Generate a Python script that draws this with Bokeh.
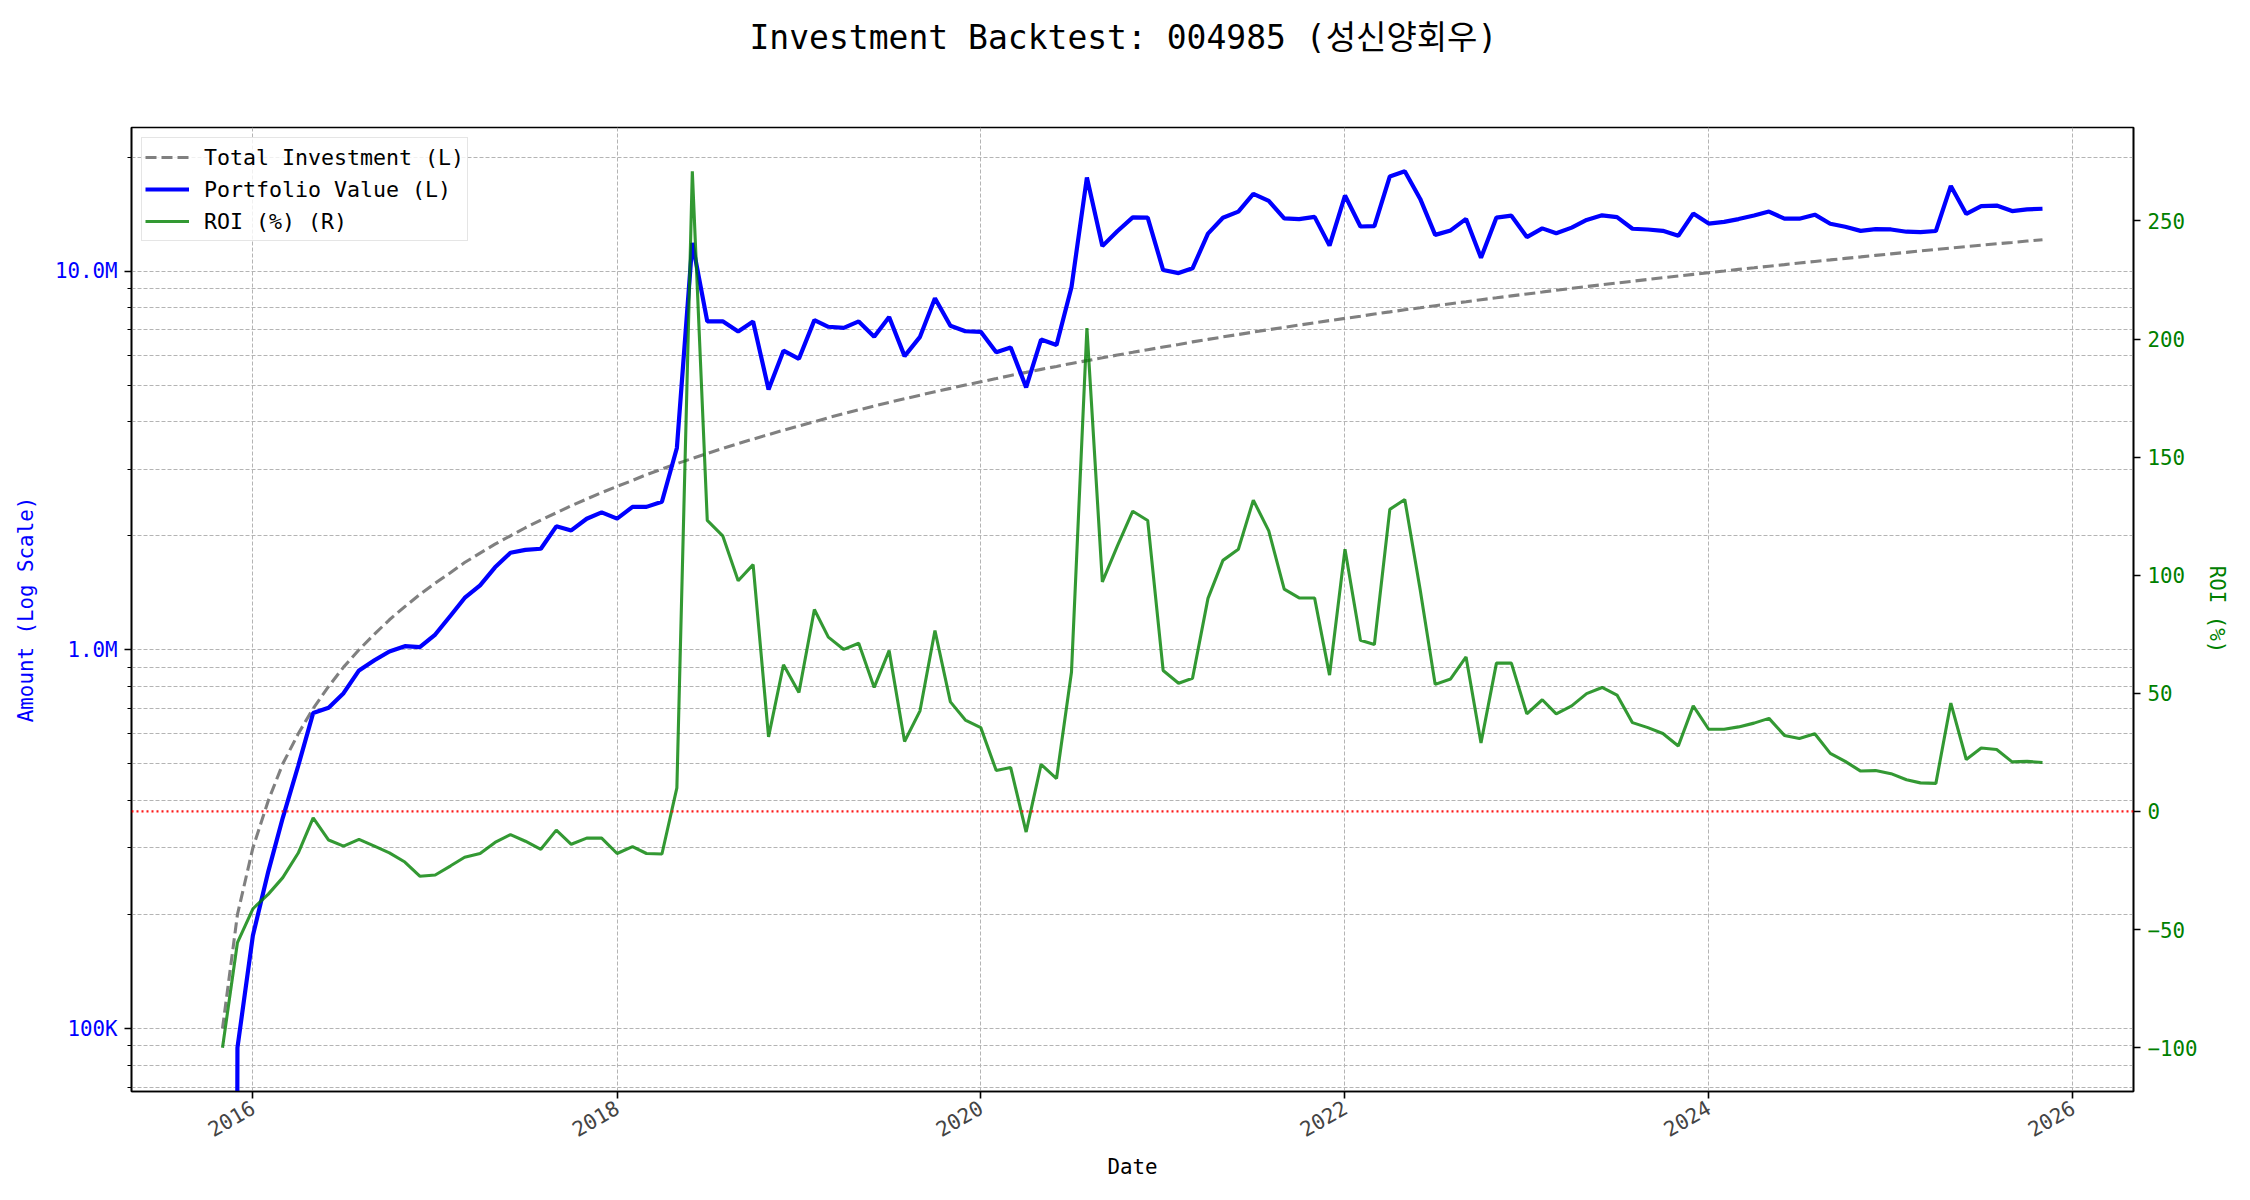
import math
import numpy as np
import pandas as pd
from bokeh.plotting import figure
from bokeh.models import (ColumnDataSource, Range1d, LinearAxis, LinearScale, FixedTicker,
                          Legend, LegendItem, Span, Title)
from bokeh.embed import file_html
from bokeh.resources import INLINE

# ---------------- data ----------------
START_MONTH = "2015-11-01"
N_MONTHS = 121

TOTAL_INVESTMENT_K = [
    100, 200,
    300, 400, 500, 600, 700, 800, 900, 1000, 1100, 1200, 1300, 1400,
    1500, 1600, 1700, 1800, 1900, 2000, 2100, 2200, 2300, 2400, 2500, 2600,
    2700, 2800, 2900, 3000, 3100, 3200, 3300, 3400, 3500, 3600, 3700, 3800,
    3900, 4000, 4100, 4200, 4300, 4400, 4500, 4600, 4700, 4800, 4900, 5000,
    5100, 5200, 5300, 5400, 5500, 5600, 5700, 5800, 5900, 6000, 6100, 6200,
    6300, 6400, 6500, 6600, 6700, 6800, 6900, 7000, 7100, 7200, 7300, 7400,
    7500, 7600, 7700, 7800, 7900, 8000, 8100, 8200, 8300, 8400, 8500, 8600,
    8700, 8800, 8900, 9000, 9100, 9200, 9300, 9400, 9500, 9600, 9700, 9800,
    9900, 10000, 10100, 10200, 10300, 10400, 10500, 10600, 10700, 10800, 10900, 11000,
    11100, 11200, 11300, 11400, 11500, 11600, 11700, 11800, 11900, 12000, 12100,
]

PORTFOLIO_K = [
    0, 89,
    176, 260, 360, 494, 681, 703, 768, 882, 938, 990, 1022, 1016,
    1097, 1232, 1370, 1480, 1651, 1804, 1835, 1848, 2118, 2066, 2218, 2306,
    2219, 2383, 2384, 2460, 3410, 11872, 7366, 7368, 6920, 7362, 4869, 6160,
    5866, 7420, 7126, 7081, 7362, 6710, 7565, 5962, 6702, 8477, 7174, 6935,
    6911, 6100, 6286, 4930, 6595, 6378, 9057, 17667, 11635, 12738, 13853, 13838,
    10061, 9875, 10166, 12553, 13822, 14348, 15994, 15316, 13781, 13709, 13899, 11670,
    15825, 13110, 13144, 17776, 18336, 15504, 12458, 12800, 13728, 10836, 13838, 14001,
    12293, 12962, 12576, 13023, 13641, 14030, 13885, 12934, 12873, 12768, 12387, 14181,
    13345, 13480, 13716, 14015, 14358, 13749, 13745, 14087, 13332, 13090, 12764, 12903,
    12876, 12701, 12667, 12757, 16779, 14152, 14847, 14892, 14399, 14544, 14605,
]

ROI_PCT = [
    -100.0, -55.5,
    -41.2, -35.0, -28.0, -17.6, -2.7, -12.1, -14.7, -11.8, -14.7, -17.5, -21.4, -27.4,
    -26.9, -23.0, -19.4, -17.8, -13.1, -9.8, -12.6, -16.0, -7.9, -13.9, -11.3, -11.3,
    -17.8, -14.9, -17.8, -18.0, 10.0, 271.0, 123.2, 116.7, 97.7, 104.5, 31.6, 62.1,
    50.4, 85.5, 73.8, 68.6, 71.2, 52.5, 68.1, 29.6, 42.6, 76.6, 46.4, 38.7,
    35.5, 17.3, 18.6, -8.7, 19.9, 13.9, 58.9, 204.6, 97.2, 112.3, 127.1, 123.2,
    59.7, 54.3, 56.4, 90.2, 106.3, 111.0, 131.8, 118.8, 94.1, 90.4, 90.4, 57.7,
    111.0, 72.5, 70.7, 127.9, 132.1, 93.8, 53.8, 56.1, 65.4, 29.0, 62.8, 62.8,
    41.3, 47.3, 41.3, 44.7, 49.9, 52.5, 49.3, 37.6, 35.5, 33.0, 27.7, 44.7,
    34.8, 34.8, 35.8, 37.4, 39.4, 32.2, 30.9, 32.9, 24.6, 21.2, 17.1, 17.3,
    16.0, 13.4, 12.1, 11.9, 45.9, 22.0, 26.9, 26.2, 21.0, 21.2, 20.7,
]

LEFT_TICKS = [1e5, 1e6, 1e7]
LEFT_TICK_LABELS = ["100K", "1.0M", "10.0M"]
ROI_TICKS = [-100, -50, 0, 50, 100, 150, 200, 250]
YEAR_TICKS = [2016, 2018, 2020, 2022, 2024, 2026]

TITLE = "Investment Backtest: 004985 (성신양회우)"

# ---------------- build ----------------
MONO = "'DejaVu Sans Mono', 'Noto Sans CJK KR', monospace"
FS = "20.8px"

dates = pd.date_range(START_MONTH, periods=N_MONTHS, freq="MS")
invest = np.array(TOTAL_INVESTMENT_K, dtype=float) * 1000.0
pv = np.array(PORTFOLIO_K, dtype=float) * 1000.0
pv_plot = np.where(pv > 0, pv, 1e-10)  # like matplotlib's log clip of non-positive values
roi = np.array(ROI_PCT, dtype=float)

src = ColumnDataSource(dict(date=dates, invest=invest, pv=pv_plot, roi=roi))

span = dates[-1] - dates[0]
x_start = dates[0] - span * 0.05
x_end = dates[-1] + span * 0.05

lv = np.log10(np.concatenate([invest, pv[pv > 0]]))
lmin, lmax = lv.min(), lv.max()
lpad = (lmax - lmin) * 0.05
y_start, y_end = 10 ** (lmin - lpad), 10 ** (lmax + lpad)

rpad = (roi.max() - roi.min()) * 0.05
r_start, r_end = roi.min() - rpad, roi.max() + rpad

p = figure(width=2234, height=1184, x_axis_type="datetime", y_axis_type="log",
           x_range=Range1d(x_start, x_end), y_range=Range1d(y_start, y_end),
           output_backend="svg", toolbar_location=None, title=None,
           min_border_left=131, min_border_right=101, min_border_top=127,
           min_border_bottom=93)
p.extra_y_ranges = {"roi": Range1d(r_start, r_end)}
p.extra_y_scales = {"roi": LinearScale()}

p.background_fill_color = "white"
p.border_fill_color = "white"
p.outline_line_color = "black"
p.outline_line_width = 1.6

# title (a thin spacer title sits between the main title and the frame)
spacer = Title(text=" ", text_font_size="10px", standoff=57, text_color="white")
p.add_layout(spacer, "above")
main_title = Title(text=TITLE, align="left", offset=618, vertical_align="middle",
                   standoff=0, text_font=MONO, text_font_size="33px",
                   text_font_style="normal", text_color="black")
p.add_layout(main_title, "above")

# left axis
yax = p.yaxis[0]
minor = [m * 10 ** e for e in range(4, 8) for m in range(2, 10)]
yax.ticker = FixedTicker(ticks=LEFT_TICKS, minor_ticks=minor)
yax.major_label_overrides = {int(t): lab for t, lab in zip(LEFT_TICKS, LEFT_TICK_LABELS)}
yax.axis_label = "Amount (Log Scale)"
yax.axis_label_text_color = "blue"
yax.major_label_text_color = "blue"

# bottom axis
xax = p.xaxis[0]
year_ms = [int(pd.Timestamp(f"{y}-01-01").value // 10 ** 6) for y in YEAR_TICKS]
xax.ticker = FixedTicker(ticks=year_ms)
xax.major_label_overrides = {ms: str(y) for ms, y in zip(year_ms, YEAR_TICKS)}
xax.major_label_orientation = math.pi / 6
xax.axis_label = "Date"
xax.axis_label_text_color = "black"

# right axis
rax = LinearAxis(y_range_name="roi", axis_label="ROI (%)")
rax.ticker = FixedTicker(ticks=ROI_TICKS)
rax.axis_label_text_color = "green"
rax.major_label_text_color = "green"
p.add_layout(rax, "right")

for ax in (yax, xax, rax):
    ax.axis_line_color = "black"
    ax.axis_line_width = 1.6
    ax.major_tick_line_color = "black"
    ax.major_tick_line_width = 1.6
    ax.minor_tick_line_color = "black"
    ax.minor_tick_line_width = 1.2
    ax.major_tick_in = 0
    ax.major_tick_out = 7
    ax.minor_tick_in = 0
    ax.minor_tick_out = 4
    ax.major_label_standoff = 7
    ax.major_label_text_font = MONO
    ax.major_label_text_font_size = FS
    ax.axis_label_text_font = MONO
    ax.axis_label_text_font_size = FS
    ax.axis_label_text_font_style = "normal"
yax.axis_label_standoff = 14
rax.axis_label_standoff = 4
xax.axis_label_standoff = 8

# grids
GRID = "#b4b4b4"
p.ygrid.grid_line_color = GRID
p.ygrid.grid_line_dash = "4 2"
p.ygrid.grid_line_width = 1
p.ygrid.minor_grid_line_color = GRID
p.ygrid.minor_grid_line_dash = "4 2"
p.ygrid.minor_grid_line_width = 1
p.xgrid.grid_line_color = GRID
p.xgrid.grid_line_dash = "4 2"
p.xgrid.grid_line_width = 1

# lines
r_inv = p.line("date", "invest", source=src, line_color="gray", line_width=3.1,
               line_dash="11 5")
r_pv = p.line("date", "pv", source=src, line_color="blue", line_width=4.2)
r_roi = p.line("date", "roi", source=src, y_range_name="roi", line_color="green",
               line_alpha=0.8, line_width=3.1)

zero = Span(location=0, dimension="width", y_range_name="roi", line_color="red",
            line_alpha=0.9, line_dash="2 3", line_width=2.2)
p.add_layout(zero)

legend = Legend(items=[
    LegendItem(label="Total Investment (L)", renderers=[r_inv]),
    LegendItem(label="Portfolio Value (L)", renderers=[r_pv]),
    LegendItem(label="ROI (%) (R)", renderers=[r_roi]),
], location="top_left")
legend.label_text_font = MONO
legend.label_text_font_size = "21.6px"
legend.label_text_color = "black"
legend.border_line_color = "#cccccc"
legend.border_line_width = 1.5
legend.background_fill_color = "white"
legend.background_fill_alpha = 0.8
legend.glyph_width = 44
legend.glyph_height = 32
legend.label_height = 32
legend.label_standoff = 15
legend.padding = 3
legend.spacing = 0
legend.margin = 10
p.add_layout(legend, "center")

open("out.html", "w").write(file_html(p, INLINE))
